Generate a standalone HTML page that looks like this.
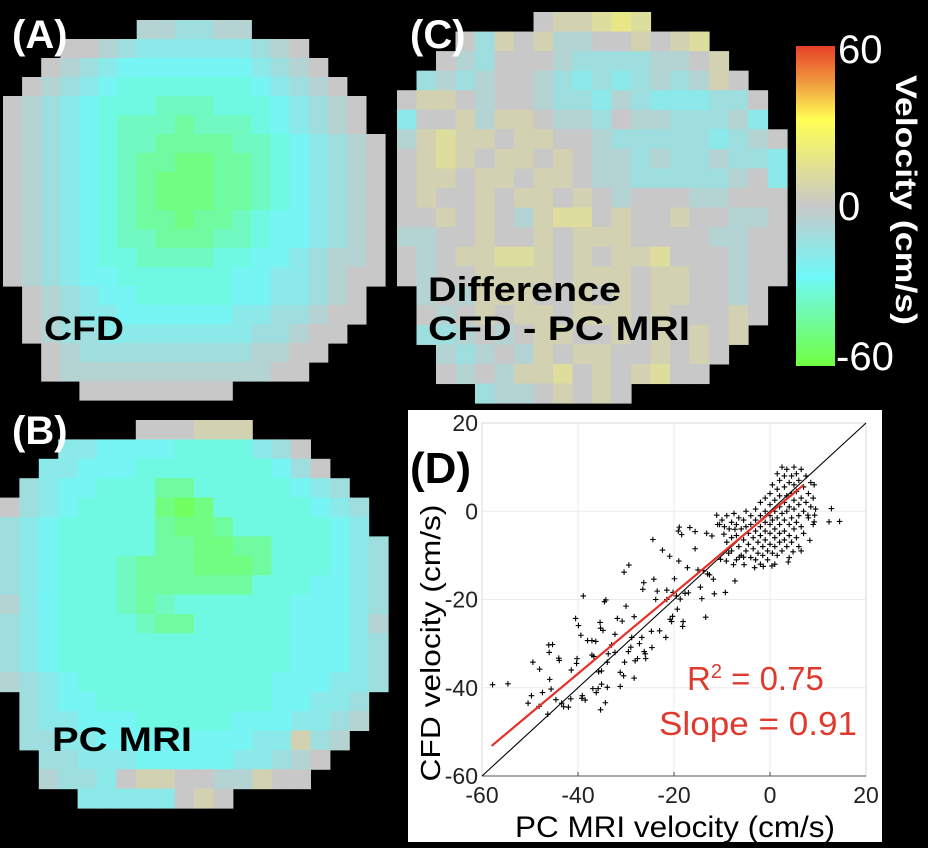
<!DOCTYPE html>
<html><head><meta charset="utf-8"><style>
html,body{margin:0;padding:0;background:#000;}
svg{display:block;font-family:"Liberation Sans",Arial,sans-serif;}
</style></head><body>
<svg id="root" width="928" height="848" viewBox="0 0 928 848" xmlns="http://www.w3.org/2000/svg">
<defs>
<linearGradient id="cbgrad" x1="0" y1="0" x2="0" y2="1">
<stop offset="0" stop-color="#e84028"/>
<stop offset="0.12" stop-color="#f0a040"/>
<stop offset="0.23" stop-color="#ffff55"/>
<stop offset="0.5" stop-color="#c8c8c8"/>
<stop offset="0.72" stop-color="#70f8f8"/>
<stop offset="1" stop-color="#70ff40"/>
</linearGradient>
</defs>
<rect x="0" y="0" width="928" height="848" fill="#000"/>
<g id="maps"></g>
<g>
<rect x="796" y="46" width="39" height="320" fill="url(#cbgrad)"/>
<text x="838" y="63" fill="#fff" font-size="40">60</text>
<text x="838" y="220" fill="#fff" font-size="40">0</text>
<text x="836" y="370" fill="#fff" font-size="40">-60</text>
<text transform="translate(896,200) rotate(90)" text-anchor="middle" fill="#fff" font-size="30" font-weight="bold" textLength="250" lengthAdjust="spacingAndGlyphs">Velocity (cm/s)</text>
</g>
<text x="12" y="48" fill="#fff" font-size="40" font-weight="bold">(A)</text>
<text x="410" y="48" fill="#fff" font-size="40" font-weight="bold">(C)</text>
<text x="12" y="444" fill="#fff" font-size="40" font-weight="bold">(B)</text>
<text x="44" y="340" fill="#000" font-size="34" font-weight="bold" textLength="80" lengthAdjust="spacingAndGlyphs">CFD</text>
<text x="52" y="751" fill="#000" font-size="34" font-weight="bold" textLength="140" lengthAdjust="spacingAndGlyphs">PC MRI</text>
<text x="428" y="301" fill="#000" font-size="34" font-weight="bold" textLength="193" lengthAdjust="spacingAndGlyphs">Difference</text>
<text x="428" y="340" fill="#000" font-size="34" font-weight="bold" textLength="262" lengthAdjust="spacingAndGlyphs">CFD - PC MRI</text>
<g id="scatter">
<rect x="408" y="410" width="474" height="432" fill="#fff"/>
</g>
</svg>
<script>
// ---- heatmap data (velocity level codes: digit d => -6*d cm/s, letters a..d => +6..+24) ----
const mapA = [
"00000001122110000000","00000123333332100000","00012344444443210000","00123455555554321000",
"01234555666555432100","01234566676665432100","01234566777766543210","01234567788776543210",
"01234567888776543210","01234567888776543210","01234567787765443210","01234566777665443210",
"01234556666554432110","01234455555544332100","00123445555544332100","00123344444433221000",
"00122333333332210000","00012222222221100000","00011111111111000000","00000000000000000000"];
const mapB = [
"0000000000aaa0000000","00033444455553200000","00334445555555420000","02344555775555543200",
"02345555898555554320","23455555788755555430","23455555778877555432","23455567778887555432",
"23455567777775554432","13455567655555544432","23455556775555544431","23455555555555544432",
"23455555555555544432","12345555555555444332","02344555555555443320","02334445555544433210",
"022334444444433a2100","00223334444433210000","0012230aa0011a000000","0000333330a0a0000000"];
const mapC = [
"00000000aabcb0000000","00002a0a1100a0ab0000","0001200012222110a000","0212100123232121a000",
"0aa01001223123332200","300a1aa0112011222130","1abaa0aa001222223210","0aba0aa0a01121221223",
"0aa0aa0aa01122222103","0a00a0aa0a0100011000","00a0a01abb0a00a00110","1100a00a0aaa00001100",
"010aabba0a0aab000100","0100aaaa0aaa0aa00100","0101aaa00a0a0aa00100","0010a0aa0aaa0a000a00",
"0221010aa00a0a0a0a00","0012101a0aa00a0a0000","000101aab0a0ab000000","00002110a0a000000000"];

// ---- scatter data (PC MRI velocity x, CFD velocity y, cm/s) ----
const pcVel = [-57.8,-54.6,-49.4,-48,-49.7,-50.4,-47.4,-48.1,-46.1,-45.3,-46,-45.9,-45.6,-46.3,-44,-43.9,-44.6,-43.4,-43,-42,-41.5,-41.4,-40.5,-39.9,-39.4,-40.3,-40.2,-38.9,-39.1,-38.5,-39.2,-38,-37.1,-36.3,-36.7,-37.1,-36.9,-35.8,-36.2,-35.7,-35.1,-35.1,-35.4,-35.3,-34.8,-34.5,-34.2,-34.3,-35.3,-33.9,-33.9,-33.7,-32.3,-33,-31.8,-32.3,-31.2,-30.5,-31.2,-30.8,-30,-30.4,-29.4,-30.3,-29.5,-29,-28.8,-28.3,-28.3,-28.1,-27.6,-27.2,-26.7,-26.5,-26.3,-26.2,-26,-25.9,-24.7,-24.6,-24.4,-24.2,-23.8,-23.5,-23,-22.4,-21.7,-21.5,-21.5,-20.9,-20.8,-20.5,-20.3,-20.2,-19.9,-19.5,-19.3,-19,-18.9,-19.1,-18.4,-18.7,-18.1,-18.2,-17.7,-17,-17.2,-16.7,-15.6,-15.6,-15,-14.5,-14.2,-13.8,-13.4,-13.2,-13,-12.6,-12.1,-11.8,-11.1,-10.9,-11.6,-10.3,-9.3,-9.6,-9.1,-8.6,-7.6,-7.3,-7.3,-6.4,-5.5,-5.4,-3.2,-1.4,0.4,
-10,-9.5,-9,-8.5,-8,-8,-7.5,-7,-7,-6.5,-6.5,-6,-6,-5.5,-5.5,-5,-5,-5,-4.5,-4.5,-4,-4,-4,-3.5,-3.5,-3,-3,-3,-3,-2.5,-2.5,-2,-2,-2,-2,-1.5,-1.5,-1,-1,-1,-1,-1,-0.5,-0.5,0,0,0,0,0,0,0.5,0.5,0.5,1,1,1,1,1,1.5,1.5,1.5,1.5,2,2,2,2,2,2,2.5,2.5,2.5,3,3,3,3,3,3,3.5,3.5,3.5,3.5,4,4,4,4,4,4.5,4.5,4.5,4.5,5,5,5,5,5,5.5,5.5,5.5,5.5,6,6,6,6,6.5,6.5,6.5,7,7,7,7.5,7.5,8,8,8.5,8.5,9,9.5,9,-10.5,-9,-8,-7,-2,1,6.5,
9.2,12.8,12.3,14.5,8.3,3.8,4.8,9.3,9.2,7.9];
const cfdVel = [-39.3,-39.1,-34.2,-35.8,-41.8,-43.5,-41.1,-44.2,-30.3,-30.2,-32,-38.1,-40.3,-46,-33.3,-33.8,-42.7,-43.5,-44.3,-44.4,-42.5,-36,-24.3,-25.9,-28.1,-34.5,-33.4,-19.2,-41.8,-42.8,-42.4,-29.3,-29.3,-29.5,-32.9,-32.6,-40.2,-40.2,-41.1,-36.4,-36.2,-39.2,-25.2,-26.5,-27,-20.5,-20.1,-43.4,-45,-39.9,-34.2,-32.3,-32,-30.3,-24.3,-27.9,-39.7,-37.3,-36.5,-24.9,-21.5,-13.8,-12.2,-34.2,-31.8,-30.8,-28.6,-23.9,-37.8,-33.9,-33.4,-30,-28.6,-17.7,-16.2,-31.8,-32.3,-33.4,-27.2,-30.9,-6.4,-15.4,-20,-18.1,-27.1,-8.8,-28.6,-20,-17.9,-10.2,-24.5,-25,-23.8,-18.4,-15.3,-19.2,-22.2,-11.3,-3.6,-4.5,-5.3,-19.9,-25,-26.1,-18.6,-18.5,-12.8,-3.7,-4.6,-8.5,-13.3,-17.2,-19.8,-13.5,-24,-5,-14.2,-14.4,-5.6,-15.4,-0.9,-3,-18.7,-10.9,-18.4,-5.2,-11.3,-9.5,-12.1,-15.8,-4.1,-10.4,-10.4,-12.1,-12.8,-12.5,-12.4,
-2,-3.5,-1,-4,-2.5,-6,-0.5,-3,-5.5,-1.5,-8,-4,-10,-2,-6.5,0,-3.5,-9,-5,-7.5,-1,-3,-10.5,-6,-8.5,0.5,-2,-4.5,-11,-7,-9.5,-1,-3.5,-5.5,2,-8,-10,0,-2.5,-4.5,-6.5,3,-9,-11,1.5,-1,-3,-5,-7.5,4,-2,-9.5,6,0,-4,-6,-8,2.5,-1.5,-10,5,8.5,-3,-5,-7,1,3.5,7,-9,-0.5,10,-2,-4.5,-6.5,2,5.5,8,-8,0,3.5,9.5,-3,-5.5,1,6.5,-10.5,-1.5,4,8,-7,-4,0.5,2.5,6,10,-2.5,-6,4.5,8.5,-1,1.5,-8,7,-3.5,3,9.5,0,5.5,-5,2,8,-1.5,4,1,6.5,-3,0.5,3,-3,-7,-9,-11,-12,-12,-9,
6,0.6,-2.4,-2.3,-6.6,-11.5,-9.2,-0.9,-2.4,-0.9];
const xTicks = [-60,-40,-20,0,20];
const yTicks = [-60,-40,-20,0,20];
const fitSlope = 0.91, fitIntercept = 0.1, fitXmin = -58, fitXmax = 7;

const NS = "http://www.w3.org/2000/svg";
function mk(tag, attrs, parent){ const e=document.createElementNS(NS,tag); for(const k in attrs) e.setAttribute(k,attrs[k]); parent.appendChild(e); return e; }

const stops = [[-60,[112,255,64]],[-26,[112,248,248]],[0,[200,200,200]],[32,[255,255,85]],[45,[240,160,60]],[60,[232,64,40]]];
function cmap(v){
  v=Math.max(-60,Math.min(60,v));
  for(let i=0;i<stops.length-1;i++){ const a=stops[i],b=stops[i+1];
    if(v<=b[0]){ const t=(v-a[0])/(b[0]-a[0]); const c=a[1].map((x,j)=>Math.round(x+(b[1][j]-x)*t)); return `rgb(${c[0]},${c[1]},${c[2]})`; } }
  return "rgb(232,64,40)";
}
function codeVal(ch){ if(ch>='0'&&ch<='9') return -6*(+ch); return 6*(ch.charCodeAt(0)-96); }
const rowStart=[7,3,2,1,0,0,0,0,0,0,0,0,0,0,1,1,1,2,2,4];
const rowEnd  =[12,15,16,17,18,18,19,19,19,19,19,19,19,19,18,18,17,16,15,11];
const mapsG=document.getElementById('maps');
function drawMap(rows, ox, oy, cw, ch, name){
  const g=mk('g',{},mapsG);
  
  
  for(let r=0;r<20;r++){ for(let c=rowStart[r];c<=rowEnd[r];c++){
    const v=codeVal(rows[r][c]||'0');
    const cell=mk('rect',{x:(ox+c*cw).toFixed(2),y:(oy+r*ch).toFixed(2),width:(cw+0.6).toFixed(2),height:(ch+0.6).toFixed(2),fill:cmap(v)},g);
    
    
  } }
}
drawMap(mapA, 3, 20, 19.1, 19, 'cfd-velocity-map');
drawMap(mapB, 0, 420, 19.4, 19.4, 'pc-mri-velocity-map');
drawMap(mapC, 397, 12, 19.5, 19.55, 'difference-map');

const sg=document.getElementById('scatter');
const L=482,R=866,T=423,B=776,MIN=-60,MAX=20;
const sx=v=>L+(v-MIN)/(MAX-MIN)*(R-L);
const sy=v=>B-(v-MIN)/(MAX-MIN)*(B-T);
const grid=mk('g',{},sg);


xTicks.forEach(t=>{ const l=mk('line',{x1:sx(t),x2:sx(t),y1:T,y2:B,stroke:'#ebebeb','stroke-width':1},grid);  
  const tx=mk('text',{x:sx(t),y:B+27,'text-anchor':'middle','font-size':23,fill:'#222'},sg); tx.textContent=t;  
  const tk=mk('line',{x1:sx(t),x2:sx(t),y1:B,y2:B-4,stroke:'#444'},sg);   });
yTicks.forEach(t=>{ const l=mk('line',{x1:L,x2:R,y1:sy(t),y2:sy(t),stroke:'#ebebeb','stroke-width':1},grid);  
  const tx=mk('text',{x:L-4,y:sy(t)+8,'text-anchor':'end','font-size':23,fill:'#222'},sg); tx.textContent=t;   });
const frame=mk('rect',{x:L,y:T,width:R-L,height:B-T,fill:'none',stroke:'#d8d8d8'},sg);


const ax=mk('line',{x1:L,x2:R,y1:B,y2:B,stroke:'#555'},sg);


const ident=mk('line',{x1:sx(MIN),y1:sy(MIN),x2:sx(MAX),y2:sy(MAX),stroke:'#000','stroke-width':1.1},sg);


const pts=mk('g',{stroke:'#000','stroke-width':1.1},sg);


for(let i=0;i<pcVel.length;i++){
  const x=sx(pcVel[i]),y=sy(cfdVel[i]);
  const p=mk('path',{d:`M${x-2.8} ${y}H${x+2.8}M${x} ${y-2.8}V${y+2.8}`},pts);
  
  
}
const fit=mk('line',{x1:sx(fitXmin),y1:sy(fitSlope*fitXmin+fitIntercept-0.5),x2:sx(fitXmax),y2:sy(fitSlope*fitXmax+fitIntercept-0.5),stroke:'#e8302a','stroke-width':2.2},sg);


function txt(x,y,s,attrs,name){ const t=mk('text',Object.assign({x:x,y:y},attrs),sg); t.textContent=s;   return t; }
const r2=mk('text',{x:687,y:690,'font-size':33,fill:'#e03a2e'},sg);
r2.innerHTML='R<tspan font-size="20" dy="-12">2</tspan><tspan dy="12"> = 0.75</tspan>';


txt(659,735,'Slope = 0.91',{'font-size':33,fill:'#e03a2e',textLength:198,lengthAdjust:'spacingAndGlyphs'},'slope-annotation');
txt(675,837,'PC MRI velocity (cm/s)',{'font-size':30,'text-anchor':'middle',fill:'#000',textLength:320,lengthAdjust:'spacingAndGlyphs'},'x-axis-title');
const yt=mk('text',{transform:'translate(440,643) rotate(-90)','font-size':28,'text-anchor':'middle',fill:'#000',textLength:277,lengthAdjust:'spacingAndGlyphs'},sg);
yt.textContent='CFD velocity (cm/s)';


txt(410,483,'(D)',{'font-size':44,'font-weight':'bold',fill:'#000'},'panel-d-label');
</script>
</body></html>
